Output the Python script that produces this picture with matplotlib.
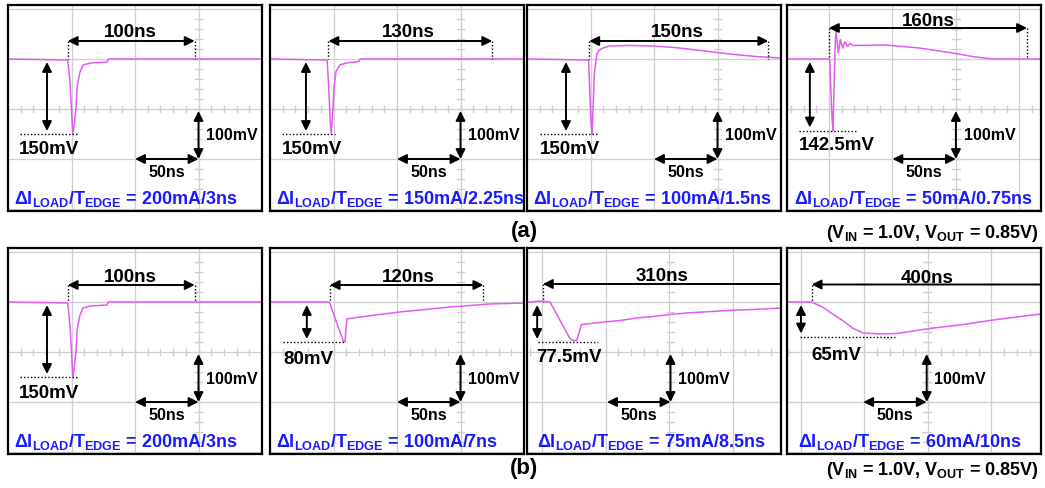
import numpy as np
import matplotlib
matplotlib.use("Agg")
import matplotlib.pyplot as plt

plt.rcParams['font.family'] = ['Liberation Sans', 'DejaVu Sans']
plt.rcParams['font.weight'] = 'bold'
plt.rcParams['mathtext.fontset'] = 'custom'
plt.rcParams['mathtext.rm'] = 'Liberation Sans:bold'
plt.rcParams['mathtext.it'] = 'Liberation Sans:bold'
plt.rcParams['mathtext.bf'] = 'Liberation Sans:bold'

# ---- scope traces (time in ns from left edge of screen, voltage in mV from baseline)
t_a1 = [0, 47, 48.8, 50.1, 51, 52, 53.5, 54.5, 56.7, 59, 65, 78, 79, 200]
v_a1 = [0, -2, -46, -106, -150, -135, -100, -54, -26, -12, -8, -6, 0, 0]

t_a2 = [0, 45, 46.3, 47.3, 48.2, 49.3, 50.5, 52, 55, 60, 70, 71, 200]
v_a2 = [0, -2, -60, -120, -150, -110, -55, -25, -12, -8, -5, 0, 0]

t_a3 = [0, 48.5, 49.5, 50.5, 51.2, 52, 53, 55, 57, 60, 65, 80, 100, 120, 140, 160, 180, 200]
v_a3 = [0, -2, -70, -130, -150, -100, -30, 10, 18, 22, 26, 27, 26, 22, 16, 10, 5, 2]

t_a4 = [0, 33, 33.6, 34.5, 35.5, 36.2, 37, 38, 38.6, 40.4, 42, 43.8, 45.6, 47.7,
        49.6, 51.7, 78, 104, 130.6, 146, 162, 200]
v_a4 = [0, 0, -2, -60, -120, -143, -60, 30, 55, 12, 39, 22, 34, 25,
        31, 27, 28, 22, 12, 5, 0, 0]

t_b1 = t_a1
v_b1 = v_a1

t_b2 = [0, 46, 47, 52, 58, 59, 60.5, 71, 102, 142, 173, 200]
v_b2 = [0, 0, -2, -38, -80, -80, -34, -30, -20, -10, -4, -2]

t_b3 = [0, 3.7, 10.2, 18.1, 33.8, 36.5, 39.1, 43, 57.5, 73.2, 86.3, 99.4, 112.5,
        125.7, 138.8, 151.9, 165, 178.1, 200]
v_b3 = [0, 0, 2, 0, -73, -77, -77, -45, -41, -37, -32, -29, -25,
        -22, -20, -18, -16, -15, -12]

t_b4 = [0, 19.4, 28.6, 36.5, 44.3, 52.2, 60, 73.2, 86.3, 99.4, 112.5, 125.7,
        138.8, 151.9, 165, 178, 200]
v_b4 = [0, 0, -11, -25, -38, -53, -62, -64, -63, -58, -53, -49,
        -45, -40, -35, -31, -24]

traces = [(t_a1, v_a1), (t_a2, v_a2), (t_a3, v_a3), (t_a4, v_a4),
          (t_b1, v_b1), (t_b2, v_b2), (t_b3, v_b3), (t_b4, v_b4)]

# ---- labels
span_labels = ['100ns', '130ns', '150ns', '160ns', '100ns', '120ns', '310ns', '400ns']
drop_labels = ['150mV', '150mV', '150mV', '142.5mV', '150mV', '80mV', '77.5mV', '65mV']
drop_values = [150, 150, 150, 143, 150, 80, 80, 69]
load_labels = ['200mA/3ns', '150mA/2.25ns', '100mA/1.5ns', '50mA/0.75ns',
               '200mA/3ns', '100mA/7ns', '75mA/8.5ns', '60mA/10ns']
row_labels = ['(a)', '(b)']
cond_label = '(V$_{IN}$ = 1.0V, V$_{OUT}$ = 0.85V)'

# ---- layout of each screen (positions in ns / mV)
grid_off = [0, 0, 0, 33, 0, 0, 12, 11]
scale_x = [150, 150, 150, 133, 150, 150, 113, 110]
# span arrow: start, end, y, double headed?
span_pos = [(47, 147, 36, True), (46, 175, 36, True), (49, 190, 36, True), (33, 189, 62, True),
            (47, 147, 34, True), (47, 168, 34, True), (12.5, 200, 36, False), (19.4, 200, 35, False)]
span_text = [(96, 54), (109, 54), (118, 54), (111, 77),
             (96, 52), (109, 52), (106, 53), (110, 49)]
# drop arrow x, dotted line from/to, label (x, y)
drop_pos = [(30.7, 9.4, 55, 8.7, -180), (28.3, 9.4, 51, 9.4, -180), (30.7, 10.2, 55, 10.2, -180),
            (18, 9.6, 55.6, 9.2, -171), (30.7, 9.4, 55, 8.7, -182), (29, 10.2, 59, 10.2, -112),
            (8, 8.7, 56, 7.6, -110), (11, 10.2, 85, 19.4, -105)]
load_x = [5, 5, 5, 5.5, 5, 5, 7.6, 8.9]

TRACE = '#e25af2'
BLUE = '#1a1aff'
GRID = '#cfcfcf'

fig = plt.figure(figsize=(10.45, 4.89), dpi=100)
W, H = 1045.0, 489.0
lefts = [8, 270, 527, 787]
tops = [6, 249]
pw, ph = 254, 206

arrow_kw = dict(color='black', lw=1.4, shrinkA=0, shrinkB=0, mutation_scale=14)

for i in range(8):
    row, col = divmod(i, 4)
    ax = fig.add_axes([lefts[col] / W, 1 - (tops[row] + ph) / H, pw / W, ph / H])
    ax.set_xlim(0, 200)
    ax.set_ylim(-304, 108)
    ax.set_xticks([])
    ax.set_yticks([])
    for s in ax.spines.values():
        s.set_linewidth(1.6)
        s.set_color('black')

    # screen grid
    for gx in np.arange(grid_off[i], 200, 50):
        if 1 < gx < 199:
            ax.axvline(gx, color=GRID, lw=0.9, zorder=0)
    for gy in [100, 0, -100, -200, -300]:
        ax.axhline(gy, color=GRID, lw=0.9, zorder=0)
    # minor ticks on the centre lines
    for tx in np.arange(grid_off[i] % 10, 200, 10):
        ax.plot([tx, tx], [-106, -94], color=GRID, lw=1.0, zorder=0)
    for ty in np.arange(-300, 108, 20):
        ax.plot([scale_x[i] - 3, scale_x[i] + 3], [ty, ty], color=GRID, lw=1.0, zorder=0)

    # trace
    t, v = traces[i]
    ax.plot(t, v, color=TRACE, lw=1.1, zorder=2)

    # span arrow with dotted markers
    x0, x1, ys, both = span_pos[i]
    style = '<|-|>' if both else '<|-'
    ax.annotate('', xy=(x1, ys), xytext=(x0, ys),
                arrowprops=dict(arrowstyle=style, **arrow_kw))
    ax.plot([x0, x0], [ys, 0], color='black', lw=1, ls=(0, (1, 1.5)))
    if both:
        ax.plot([x1, x1], [ys, 0], color='black', lw=1, ls=(0, (1, 1.5)))
    ax.text(span_text[i][0], span_text[i][1], span_labels[i], fontsize=13.5,
            ha='center', va='center')

    # voltage drop
    dx, d0, d1, lx, ly = drop_pos[i]
    dv = drop_values[i]
    ax.plot([d0, d1], [-dv, -dv], color='black', lw=1, ls=(0, (1, 1.5)))
    ax.annotate('', xy=(dx, -dv + 6), xytext=(dx, -6),
                arrowprops=dict(arrowstyle='<|-|>', **arrow_kw))
    ax.text(lx, ly, drop_labels[i], fontsize=13.5, ha='left', va='center')

    # scale arrows
    sx = scale_x[i]
    ax.annotate('', xy=(sx, -200), xytext=(sx, -104),
                arrowprops=dict(arrowstyle='<|-|>', **arrow_kw))
    ax.annotate('', xy=(sx, -200), xytext=(sx - 50, -200),
                arrowprops=dict(arrowstyle='<|-|>', **arrow_kw))
    ax.text(sx + 6, -152, '100mV', fontsize=11.5, ha='left', va='center')
    ax.text(sx - 25, -226, '50ns', fontsize=11.5, ha='center', va='center')

    # load step
    ax.text(load_x[i], -278, 'ΔI$_{LOAD}$/T$_{EDGE}$ = ' + load_labels[i],
            fontsize=13, color=BLUE, ha='left', va='center')

for row in range(2):
    y = 232 if row == 0 else 469
    fig.text(524 / W, 1 - y / H, row_labels[row], fontsize=16, ha='center', va='center')
    fig.text(1039 / W, 1 - (y + 2) / H, cond_label, fontsize=13, ha='right', va='center')

fig.savefig('out.png', dpi=100)
